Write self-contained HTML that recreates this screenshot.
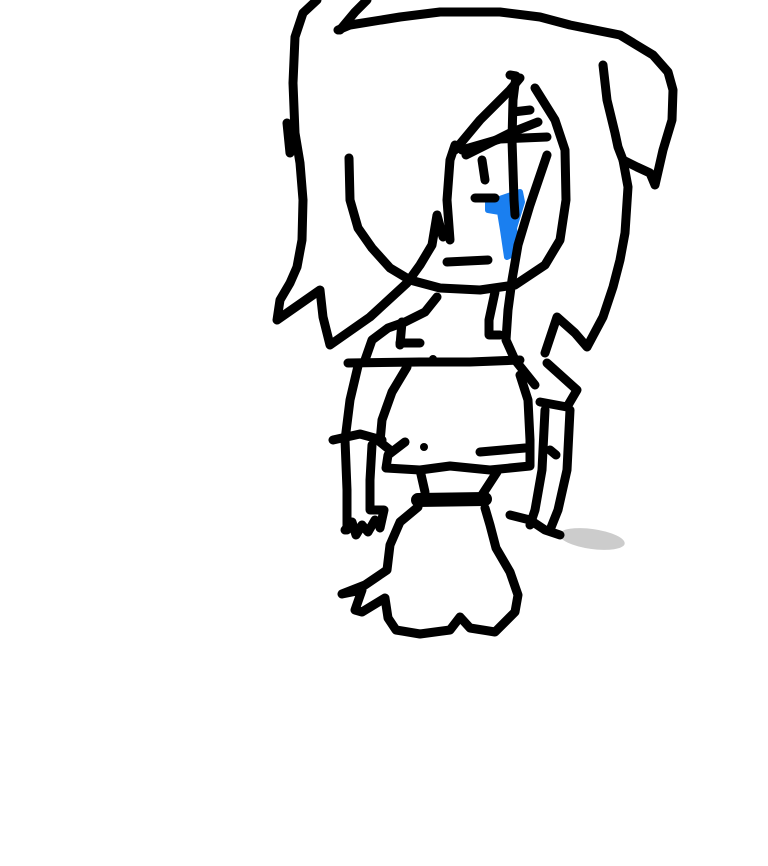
<!DOCTYPE html>
<html><head><meta charset="utf-8"><style>html,body{margin:0;padding:0;background:#fff;}svg{display:block}</style></head>
<body>
<svg width="768" height="866" viewBox="0 0 768 866" xmlns="http://www.w3.org/2000/svg">
<ellipse cx="592" cy="539" rx="33" ry="10" transform="rotate(8 592 539)" fill="#cccccc"/>
<path d="M488,203 L520,192 L522,202 L514,228 L517,252 L507,257 L503,230 L500,212 L488,210 Z" fill="#1a7ff0" stroke="#1a7ff0" stroke-width="6" stroke-linejoin="round"/>
<circle cx="424" cy="447" r="4" fill="#000"/>
<circle cx="433" cy="359" r="4" fill="#000"/>
<g fill="none" stroke="#000" stroke-width="9" stroke-linecap="round" stroke-linejoin="round">
<path d="M340,30 L355,12 L367,0"/>
<path d="M338,30 L350,25 L400,17 L440,12 L500,12 L540,17 L570,25 L620,35 L653,55 L668,72 L673,90 L672,120 L663,150 L655,185 L650,173 L637,167 L623,160 L618,147 L615,133 L607,100 L603,65"/>
<path d="M317,0 L303,13 L295,37 L293,83 L295,133 L300,163 L303,200 L302,240 L297,267 L290,283 L280,300 L277,320 L320,290 L323,317 L330,345 L370,317 L407,283 L420,265 L432,245 L437,215 L443,237"/>
<path d="M287,123 L290,153"/>
<path d="M545,353 L557,317 L575,333 L587,347 L603,317 L613,287 L620,260 L625,233 L628,187 L623,160"/>
<path d="M349,158 L350,200 L358,228 L372,248 L390,268 L410,280 L440,288 L480,290 L515,285 L545,265 L560,240 L566,200 L565,150 L555,120 L535,88"/>
<path d="M450,240 L447,200 L450,160 L455,145"/>
<path d="M455,150 L480,120 L510,90 L520,78"/>
<path d="M462,150 L500,139 L547,137"/>
<path d="M466,155 L510,133 L538,122"/>
<path d="M513,112 L530,110"/>
<path d="M510,75 L516,76 L513,100 L512,140 L514,200 L515,215"/>
<path d="M547,155 L530,205 L518,245 L512,280 L508,310 L506,340 L515,360 L535,385"/>
<path d="M482,160 L485,180"/>
<path d="M475,198 L495,198"/>
<path d="M447,262 L488,260"/>
<path d="M437,297 L425,312 L405,322 L388,328 L372,340 L365,360"/>
<path d="M402,322 L400,345"/>
<path d="M400,343 L420,343"/>
<path d="M495,292 L489,320 L489,335 L500,335"/>
<path d="M348,363 L420,362 L470,362 L520,360"/>
<path d="M407,367 L392,392 L382,420 L380,442 L390,450"/>
<path d="M405,442 L388,455 L386,468 L420,470 L450,466 L490,470 L530,466 L530,440 L528,400 L520,375"/>
<path d="M480,452 L525,448"/>
<path d="M358,366 L350,400 L345,440 L347,490 L347,530"/>
<path d="M333,440 L360,434 L382,440"/>
<path d="M372,445 L370,480 L370,510 L384,510 L380,528"/>
<path d="M345,530 L352,522 L356,535 L362,525 L368,532 L375,520"/>
<path d="M547,363 L577,390 L567,407 L540,402"/>
<path d="M570,410 L567,470 L558,510 L550,530"/>
<path d="M545,410 L542,470 L535,510 L530,525"/>
<path d="M510,515 L530,520 L545,530 L560,535"/>
<path d="M550,450 L556,455"/>
<path d="M420,470 L425,492"/>
<path d="M497,472 L482,495"/>
<path d="M418,500 L485,499" stroke-width="14"/>
<path d="M418,507 L400,522 L390,545 L387,570 L365,585 L342,594 L362,590 L355,610 L362,612 L385,598 L388,618 L396,630 L420,634 L450,630 L460,617 L470,628 L495,632 L515,612 L518,595 L510,572 L496,548 L490,525 L485,508"/>
</g>
</svg>
</body></html>
